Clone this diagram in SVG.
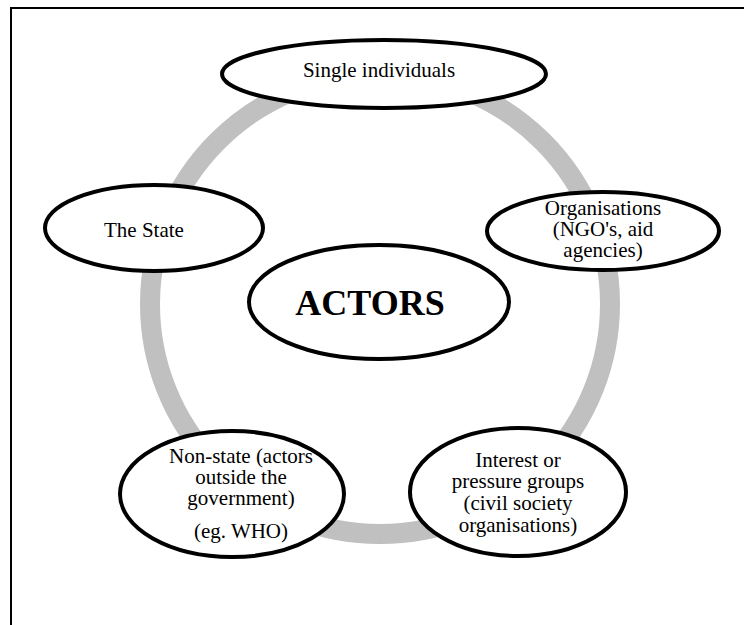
<svg xmlns="http://www.w3.org/2000/svg" width="744" height="625" viewBox="0 0 744 625">
  <style>
    .frame { stroke: #000; stroke-width: 2; fill: none; }
    .ring { stroke: #c0c0c0; stroke-width: 20; fill: none; }
    .node ellipse { fill: #fff; stroke: #000; stroke-width: 4; }
    .node text { font-family: 'Liberation Serif', 'DejaVu Serif', serif; font-size: 21px; fill: #000; text-anchor: middle; }
    #actors text { font-size: 36px; font-weight: bold; }
  </style>

  <!-- page frame (top and left edges) -->
  <path class="frame" d="M11 625 V8 H744"/>

  <!-- connecting ring behind the nodes -->
  <g id="connectors">
    <circle class="ring" cx="380" cy="304" r="230"/>
  </g>

  <g id="single-individuals" class="node" font-family="Liberation Serif, DejaVu Serif, serif">
    <ellipse cx="384" cy="74" rx="162" ry="34"/>
    <text x="379" y="77">Single individuals</text>
  </g>

  <g id="the-state" class="node" font-family="Liberation Serif, DejaVu Serif, serif">
    <ellipse cx="154" cy="228" rx="109" ry="43"/>
    <text x="144" y="237">The State</text>
  </g>

  <g id="organisations" class="node" font-family="Liberation Serif, DejaVu Serif, serif">
    <ellipse cx="603" cy="231" rx="116" ry="39"/>
    <text x="603" y="215">Organisations</text>
    <text x="603" y="236">(NGO's, aid</text>
    <text x="603" y="257">agencies)</text>
  </g>

  <g id="actors" class="node" font-family="Liberation Serif, DejaVu Serif, serif">
    <ellipse cx="379" cy="302" rx="130" ry="57"/>
    <text x="370" y="315">ACTORS</text>
  </g>

  <g id="non-state" class="node" font-family="Liberation Serif, DejaVu Serif, serif">
    <ellipse cx="232" cy="494" rx="112" ry="63"/>
    <text x="241" y="463">Non-state (actors</text>
    <text x="241" y="484">outside the</text>
    <text x="241" y="505">government)</text>
    <text x="241" y="538">(eg. WHO)</text>
  </g>

  <g id="interest-groups" class="node" font-family="Liberation Serif, DejaVu Serif, serif">
    <ellipse cx="518" cy="492" rx="108" ry="64"/>
    <text x="518" y="467">Interest or</text>
    <text x="518" y="488">pressure groups</text>
    <text x="518" y="510">(civil society</text>
    <text x="518" y="532">organisations)</text>
  </g>
</svg>
